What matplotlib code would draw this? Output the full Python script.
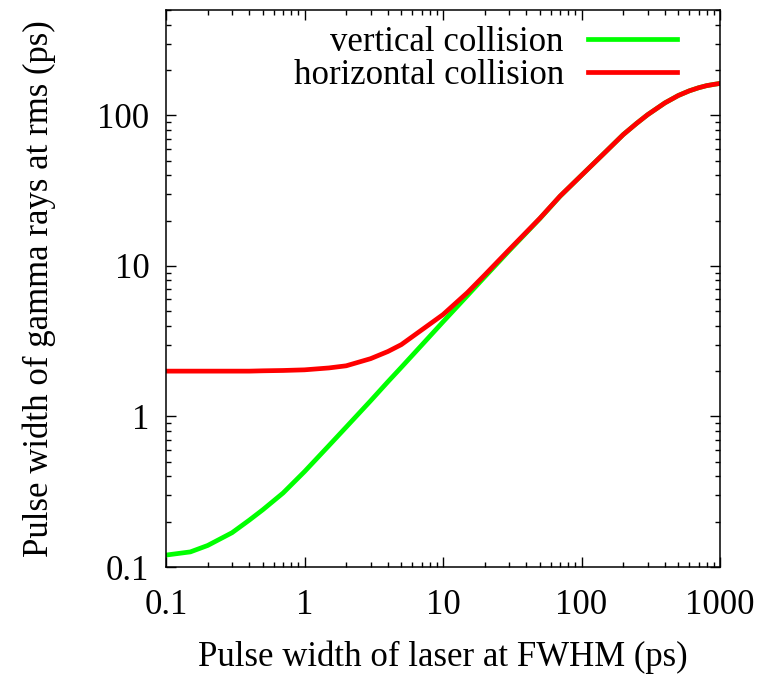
import numpy as np
import matplotlib.pyplot as plt
from matplotlib.ticker import LogLocator, FuncFormatter, NullFormatter

plt.rcParams['font.family'] = ['Liberation Serif', 'DejaVu Serif']

# laser pulse width at FWHM (ps)
laser_fwhm = [0.1, 0.15, 0.2, 0.3, 0.4, 0.5, 0.7, 1, 1.5, 2, 3, 4, 5, 7, 10, 15, 20,
              30, 50, 70, 100, 150, 200, 250, 300, 400, 500, 600, 700, 800, 900, 1000]
# gamma-ray pulse width at rms (ps)
vertical = [0.12, 0.126, 0.139, 0.169, 0.205, 0.24, 0.31, 0.43, 0.64, 0.85, 1.27, 1.7,
            2.12, 2.97, 4.25, 6.35, 8.45, 12.6, 20.6, 29.0, 40.0, 57.5, 74.5, 88.5, 101,
            121, 135.5, 145.5, 152.5, 157.5, 160.5, 163]
horizontal = [2.0, 2.0, 2.0, 2.0, 2.0, 2.01, 2.02, 2.04, 2.1, 2.17, 2.42, 2.7,
              3.0, 3.75, 4.75, 6.65, 8.7, 12.8, 20.7, 29.1, 40.0, 57.5, 74.5, 88.5, 101,
              121, 135.5, 145.5, 152.5, 157.5, 160.5, 163]

fig = plt.figure(figsize=(7.66, 6.75), dpi=100)
ax = fig.add_axes([0.2167, 0.16, 0.7233, 0.825])

ax.plot(laser_fwhm, vertical, color='#00ff00', lw=3.4, label='vertical collision')
ax.plot(laser_fwhm, horizontal, color='#ff0000', lw=3.4, label='horizontal collision')

ax.set_xscale('log')
ax.set_yscale('log')
ax.set_xlim(0.1, 1000)
ax.set_ylim(0.1, 500)

fmt = FuncFormatter(lambda v, p: '%g' % v)
for axis in (ax.xaxis, ax.yaxis):
    axis.set_major_locator(LogLocator(base=10, numticks=10))
    axis.set_minor_locator(LogLocator(base=10, subs=np.arange(2, 10), numticks=20))
    axis.set_major_formatter(fmt)
    axis.set_minor_formatter(NullFormatter())

ax.tick_params(which='both', direction='in', top=True, right=True, labelsize=25, width=1.0)
ax.tick_params(which='major', length=7)
ax.tick_params(which='minor', length=3.5)
ax.tick_params(axis='x', which='major', pad=16)
ax.tick_params(axis='y', which='major', pad=12)
for s in ax.spines.values():
    s.set_linewidth(1.1)

ax.set_xlabel('Pulse width of laser at FWHM (ps)', fontsize=25, labelpad=13)
ax.set_ylabel('Pulse width of gamma rays at rms (ps)', fontsize=25, labelpad=30)

ax.legend(loc='upper right', frameon=False, markerfirst=False, fontsize=25,
          handlelength=2.55, handletextpad=0.7, labelspacing=0.02,
          borderaxespad=0.05, bbox_to_anchor=(0.95, 1.0))

fig.savefig('out.png', dpi=100)
